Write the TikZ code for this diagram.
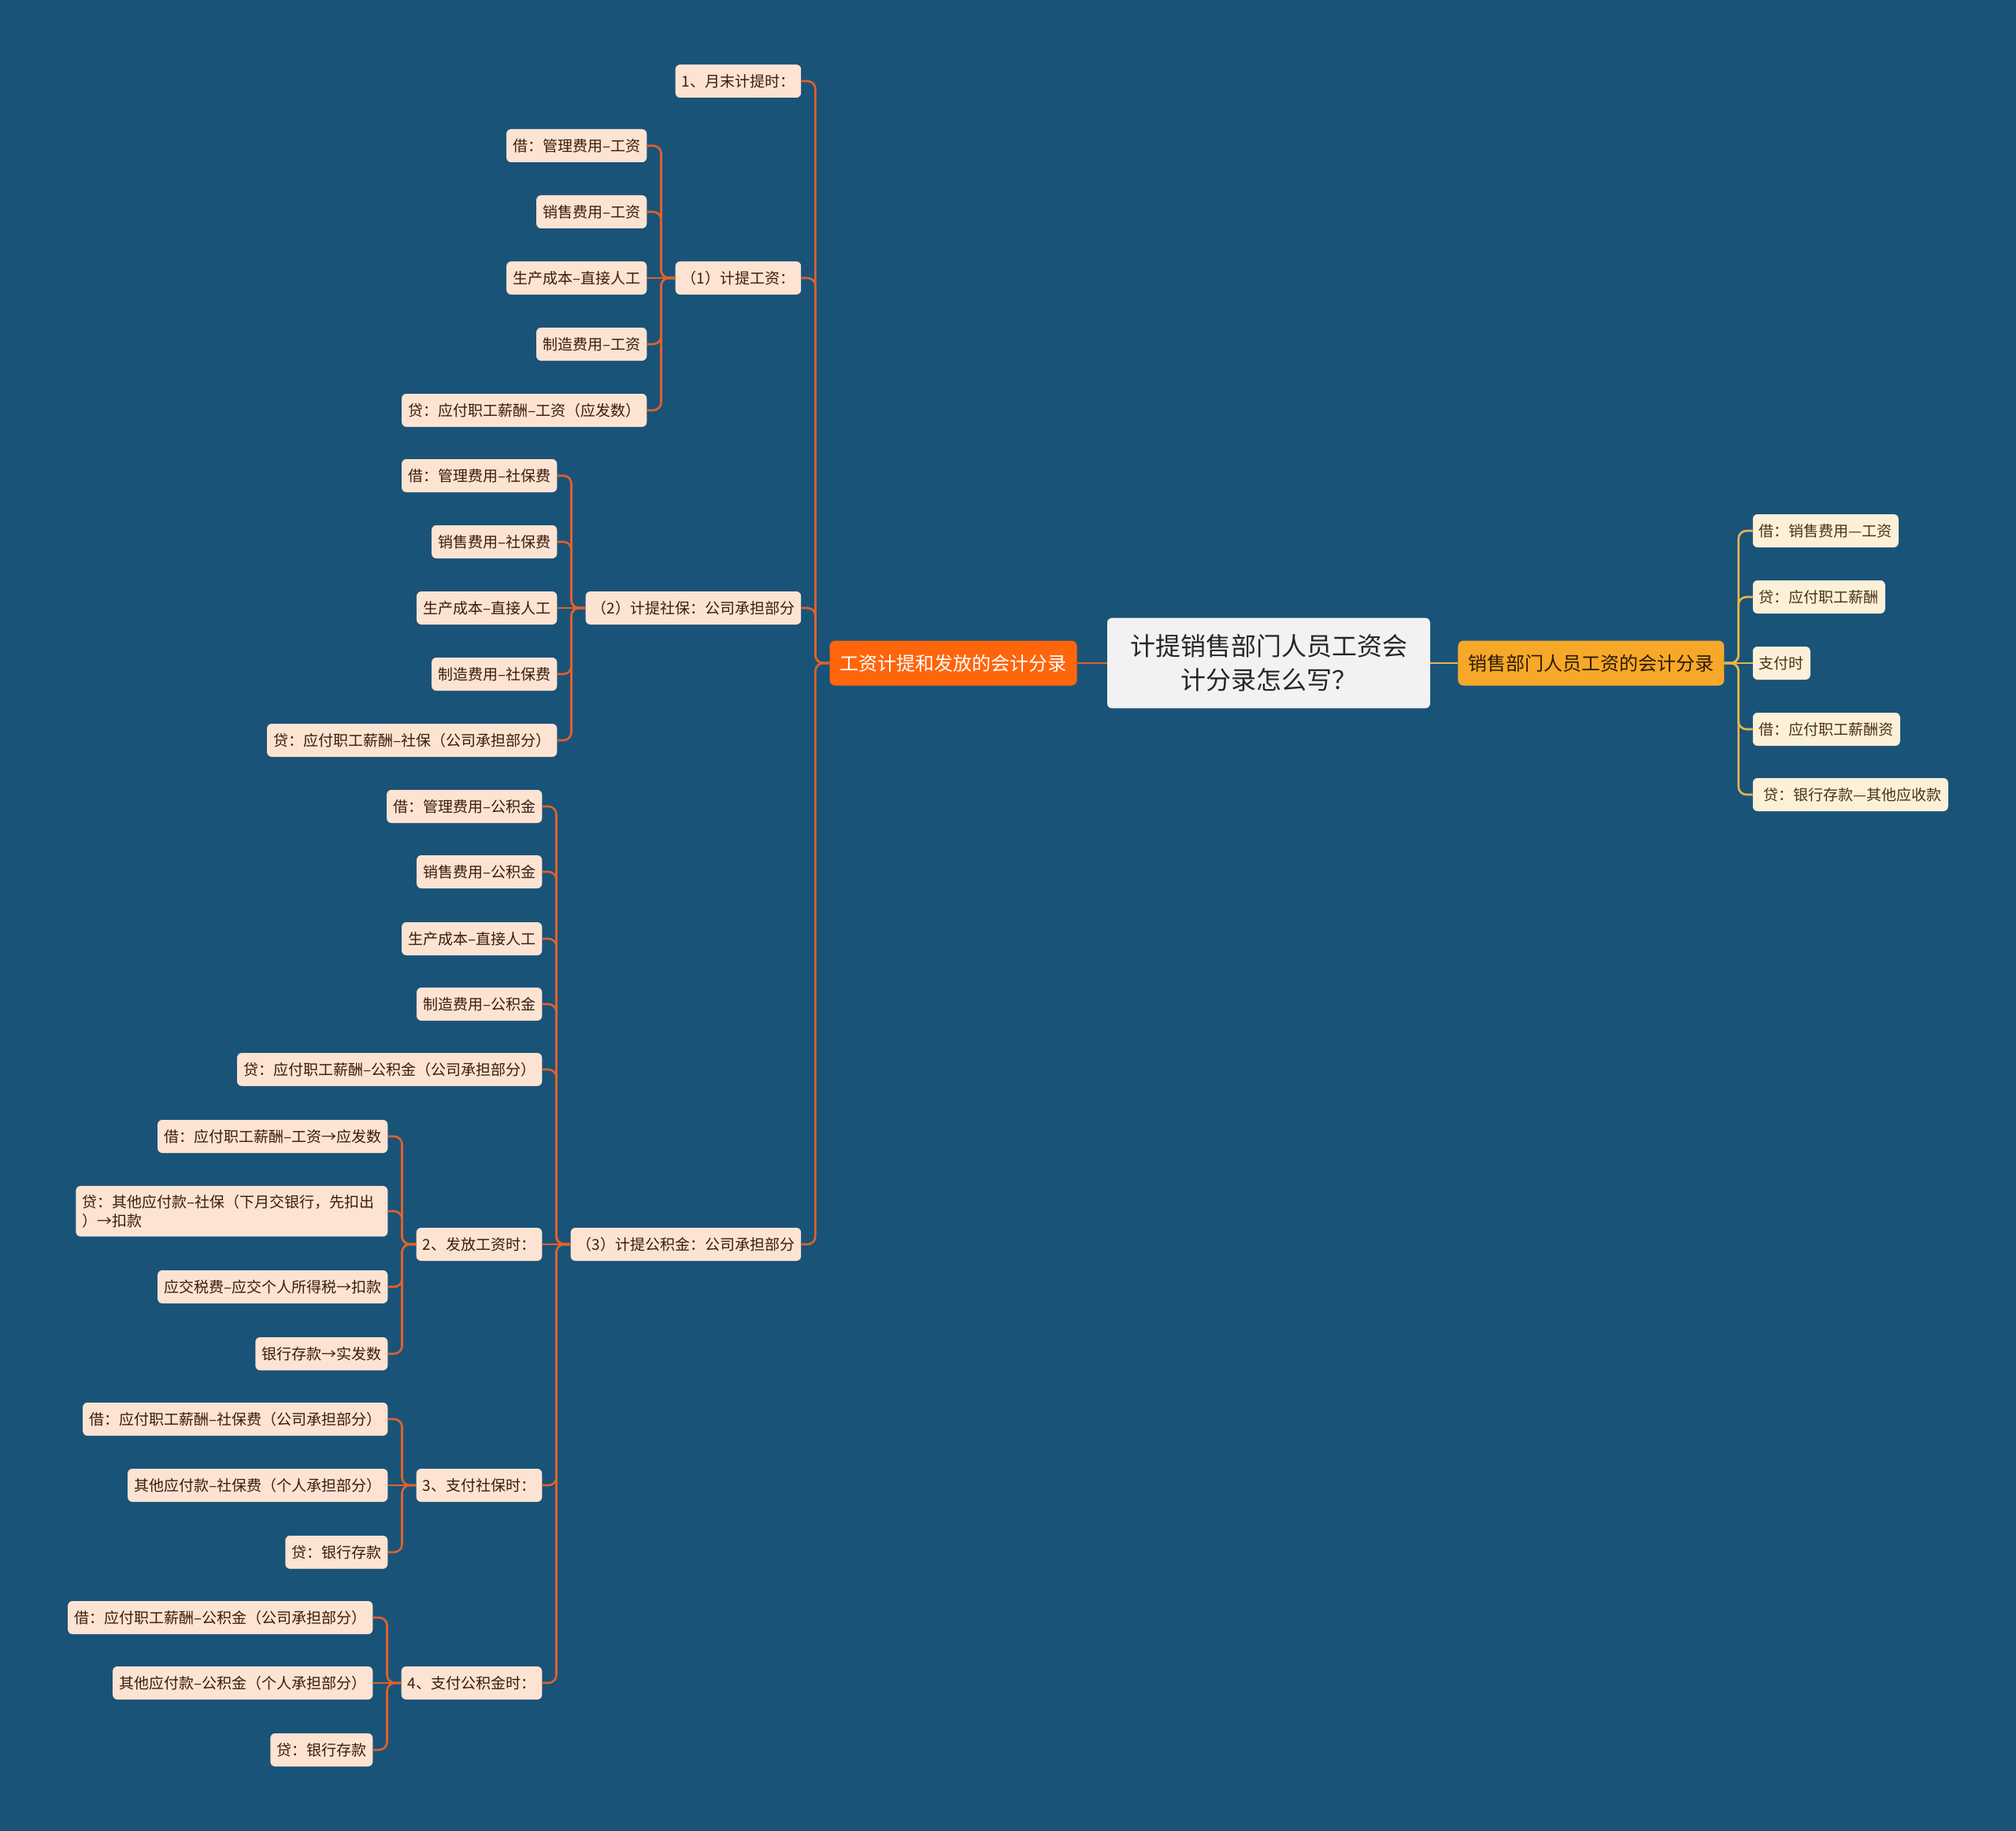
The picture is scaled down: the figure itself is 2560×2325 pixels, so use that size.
\documentclass[tikz,border=0pt]{standalone}
\usepackage{fontspec}
\setmainfont{Noto Sans CJK SC}
\usetikzlibrary{positioning}

\definecolor{bgBlue}{HTML}{1A5378}
\definecolor{leafPeach}{HTML}{FDE3D2}
\definecolor{leafText}{HTML}{3A1C0C}
\definecolor{rightCream}{HTML}{FDF0D9}
\definecolor{rightText}{HTML}{4A3312}
\definecolor{rootGray}{HTML}{F2F2F2}
\definecolor{rootText}{HTML}{262626}
\definecolor{mainOrange}{HTML}{FF650B}
\definecolor{sideYellow}{HTML}{F8A828}
\definecolor{sideText}{HTML}{2B1B05}
\definecolor{linkOrange}{HTML}{E0622A}
\definecolor{linkYellow}{HTML}{E8B44C}

\begin{document}
\begin{tikzpicture}[
			x=1pt, y=-1pt,
			% Node styles
			baseNode/.style={rounded corners=6pt, inner xsep=8pt, inner ysep=9pt, minimum height=42pt, font=\fontsize{19}{24}\selectfont},
			leafNode/.style={baseNode, fill=leafPeach, text=leafText},
			tallLeaf/.style={leafNode, align=left, text width=380pt, inner ysep=11pt},
			rightLeaf/.style={baseNode, fill=rightCream, text=rightText},
			rootNode/.style={rounded corners=6pt, fill=rootGray, text=rootText, align=center, inner xsep=29pt, inner ysep=21pt, font=\fontsize{32}{43}\selectfont},
			mainNode/.style={rounded corners=7pt, fill=mainOrange, text=white, inner xsep=13pt, minimum height=57pt, font=\fontsize{24}{30}\selectfont},
			sideNode/.style={rounded corners=7pt, fill=sideYellow, text=sideText, inner xsep=13pt, minimum height=57pt, font=\fontsize{24}{30}\selectfont},
			% Line styles
			leftLink/.style={line width=2.6pt, draw=linkOrange, rounded corners=10pt},
			rightLink/.style={line width=2.6pt, draw=linkYellow, rounded corners=10pt}
			]
			
			% Canvas
			\fill[bgBlue] (0,0) rectangle (2560,2325);
			\useasboundingbox (0,0) rectangle (2560,2325);
			
			% =========================================================
			% 1. ROOT AND THE TWO MAIN BRANCHES
			% =========================================================
			
			\node[rootNode] (root) at (1611,842) {计提销售部门人员工资会\\计分录怎么写？};
			\node[mainNode, left=38pt of root] (wageMain) {工资计提和发放的会计分录};
			\node[sideNode, right=35pt of root] (salesMain) {销售部门人员工资的会计分录};
			
			\draw[leftLink] (root.west) -- (wageMain.east);
			\draw[rightLink] (root.east) -- (salesMain.west);
			
			% =========================================================
			% 2. LEFT BRANCH: ACCRUAL AND PAYMENT
			% =========================================================
			
			% Level 1
			\node[leafNode, left=36pt of wageMain, yshift=739pt] (monthEnd) {1、月末计提时：};
			\node[leafNode, left=36pt of wageMain, yshift=489pt] (accWage) {（1）计提工资：};
			\node[leafNode, left=36pt of wageMain, yshift=70pt] (accSocial) {（2）计提社保：公司承担部分};
			\node[leafNode, left=36pt of wageMain, yshift=-738pt] (accFund) {（3）计提公积金：公司承担部分};
			
			\draw[leftLink] (monthEnd.east) -| ([xshift=-18pt]wageMain.west) [sharp corners] -- (wageMain.west);
			\draw[leftLink] (accWage.east) -| ([xshift=-18pt]wageMain.west) [sharp corners] -- (wageMain.west);
			\draw[leftLink] (accSocial.east) -| ([xshift=-18pt]wageMain.west) [sharp corners] -- (wageMain.west);
			\draw[leftLink] (accFund.east) -| ([xshift=-18pt]wageMain.west) [sharp corners] -- (wageMain.west);
			
			% (1) Wages
			\node[leafNode, left=36pt of accWage, yshift=168pt] (wageA) {借：管理费用–工资};
			\node[leafNode, left=36pt of accWage, yshift=84pt] (wageB) {销售费用–工资};
			\node[leafNode, left=36pt of accWage] (wageC) {生产成本–直接人工};
			\node[leafNode, left=36pt of accWage, yshift=-84pt] (wageD) {制造费用–工资};
			\node[leafNode, left=36pt of accWage, yshift=-168pt] (wageE) {贷：应付职工薪酬–工资（应发数）};
			
			\draw[leftLink] (wageA.east) -| ([xshift=-18pt]accWage.west) [sharp corners] -- (accWage.west);
			\draw[leftLink] (wageB.east) -| ([xshift=-18pt]accWage.west) [sharp corners] -- (accWage.west);
			\draw[leftLink] (wageC.east) -- (accWage.west);
			\draw[leftLink] (wageD.east) -| ([xshift=-18pt]accWage.west) [sharp corners] -- (accWage.west);
			\draw[leftLink] (wageE.east) -| ([xshift=-18pt]accWage.west) [sharp corners] -- (accWage.west);
			
			% (2) Social insurance
			\node[leafNode, left=36pt of accSocial, yshift=168pt] (socA) {借：管理费用–社保费};
			\node[leafNode, left=36pt of accSocial, yshift=84pt] (socB) {销售费用–社保费};
			\node[leafNode, left=36pt of accSocial] (socC) {生产成本–直接人工};
			\node[leafNode, left=36pt of accSocial, yshift=-84pt] (socD) {制造费用–社保费};
			\node[leafNode, left=36pt of accSocial, yshift=-168pt] (socE) {贷：应付职工薪酬–社保（公司承担部分）};
			
			\draw[leftLink] (socA.east) -| ([xshift=-18pt]accSocial.west) [sharp corners] -- (accSocial.west);
			\draw[leftLink] (socB.east) -| ([xshift=-18pt]accSocial.west) [sharp corners] -- (accSocial.west);
			\draw[leftLink] (socC.east) -- (accSocial.west);
			\draw[leftLink] (socD.east) -| ([xshift=-18pt]accSocial.west) [sharp corners] -- (accSocial.west);
			\draw[leftLink] (socE.east) -| ([xshift=-18pt]accSocial.west) [sharp corners] -- (accSocial.west);
			
			% (3) Housing fund
			\node[leafNode, left=36pt of accFund, yshift=556pt] (fundA) {借：管理费用–公积金};
			\node[leafNode, left=36pt of accFund, yshift=473pt] (fundB) {销售费用–公积金};
			\node[leafNode, left=36pt of accFund, yshift=388pt] (fundC) {生产成本–直接人工};
			\node[leafNode, left=36pt of accFund, yshift=305pt] (fundD) {制造费用–公积金};
			\node[leafNode, left=36pt of accFund, yshift=222pt] (fundE) {贷：应付职工薪酬–公积金（公司承担部分）};
			\node[leafNode, left=36pt of accFund] (payWage) {2、发放工资时：};
			\node[leafNode, left=36pt of accFund, yshift=-306pt] (paySocial) {3、支付社保时：};
			\node[leafNode, left=36pt of accFund, yshift=-557pt] (payFund) {4、支付公积金时：};
			
			\draw[leftLink] (fundA.east) -| ([xshift=-18pt]accFund.west) [sharp corners] -- (accFund.west);
			\draw[leftLink] (fundB.east) -| ([xshift=-18pt]accFund.west) [sharp corners] -- (accFund.west);
			\draw[leftLink] (fundC.east) -| ([xshift=-18pt]accFund.west) [sharp corners] -- (accFund.west);
			\draw[leftLink] (fundD.east) -| ([xshift=-18pt]accFund.west) [sharp corners] -- (accFund.west);
			\draw[leftLink] (fundE.east) -| ([xshift=-18pt]accFund.west) [sharp corners] -- (accFund.west);
			\draw[leftLink] (payWage.east) -- (accFund.west);
			\draw[leftLink] (paySocial.east) -| ([xshift=-18pt]accFund.west) [sharp corners] -- (accFund.west);
			\draw[leftLink] (payFund.east) -| ([xshift=-18pt]accFund.west) [sharp corners] -- (accFund.west);
			
			% 2. Paying wages
			\node[leafNode, left=36pt of payWage, yshift=137pt] (pwA) {借：应付职工薪酬–工资→应发数};
			\node[tallLeaf, left=36pt of payWage, yshift=42pt] (pwB) {贷：其他应付款–社保（下月交银行，先扣出\\）→扣款};
			\node[leafNode, left=36pt of payWage, yshift=-54pt] (pwC) {应交税费–应交个人所得税→扣款};
			\node[leafNode, left=36pt of payWage, yshift=-139pt] (pwD) {银行存款→实发数};
			
			\draw[leftLink] (pwA.east) -| ([xshift=-18pt]payWage.west) [sharp corners] -- (payWage.west);
			\draw[leftLink] (pwB.east) -| ([xshift=-18pt]payWage.west) [sharp corners] -- (payWage.west);
			\draw[leftLink] (pwC.east) -| ([xshift=-18pt]payWage.west) [sharp corners] -- (payWage.west);
			\draw[leftLink] (pwD.east) -| ([xshift=-18pt]payWage.west) [sharp corners] -- (payWage.west);
			
			% 3. Paying social insurance
			\node[leafNode, left=36pt of paySocial, yshift=84pt] (psA) {借：应付职工薪酬–社保费（公司承担部分）};
			\node[leafNode, left=36pt of paySocial] (psB) {其他应付款–社保费（个人承担部分）};
			\node[leafNode, left=36pt of paySocial, yshift=-85pt] (psC) {贷：银行存款};
			
			\draw[leftLink] (psA.east) -| ([xshift=-18pt]paySocial.west) [sharp corners] -- (paySocial.west);
			\draw[leftLink] (psB.east) -- (paySocial.west);
			\draw[leftLink] (psC.east) -| ([xshift=-18pt]paySocial.west) [sharp corners] -- (paySocial.west);
			
			% 4. Paying housing fund
			\node[leafNode, left=36pt of payFund, yshift=83pt] (pfA) {借：应付职工薪酬–公积金（公司承担部分）};
			\node[leafNode, left=36pt of payFund] (pfB) {其他应付款–公积金（个人承担部分）};
			\node[leafNode, left=36pt of payFund, yshift=-85pt] (pfC) {贷：银行存款};
			
			\draw[leftLink] (pfA.east) -| ([xshift=-18pt]payFund.west) [sharp corners] -- (payFund.west);
			\draw[leftLink] (pfB.east) -- (payFund.west);
			\draw[leftLink] (pfC.east) -| ([xshift=-18pt]payFund.west) [sharp corners] -- (payFund.west);
			
			% =========================================================
			% 3. RIGHT BRANCH: SALES DEPARTMENT ENTRIES
			% =========================================================
			
			\node[rightLeaf, right=36pt of salesMain, yshift=168pt] (saleA) {借：销售费用—工资};
			\node[rightLeaf, right=36pt of salesMain, yshift=84pt] (saleB) {贷：应付职工薪酬};
			\node[rightLeaf, right=36pt of salesMain] (saleC) {支付时};
			\node[rightLeaf, right=36pt of salesMain, yshift=-84pt] (saleD) {借：应付职工薪酬资};
			\node[rightLeaf, right=36pt of salesMain, yshift=-167pt] (saleE) {\hspace*{6pt}贷：银行存款—其他应收款};
			
			\draw[rightLink] (saleA.west) -| ([xshift=18pt]salesMain.east) [sharp corners] -- (salesMain.east);
			\draw[rightLink] (saleB.west) -| ([xshift=18pt]salesMain.east) [sharp corners] -- (salesMain.east);
			\draw[rightLink] (saleC.west) -- (salesMain.east);
			\draw[rightLink] (saleD.west) -| ([xshift=18pt]salesMain.east) [sharp corners] -- (salesMain.east);
			\draw[rightLink] (saleE.west) -| ([xshift=18pt]salesMain.east) [sharp corners] -- (salesMain.east);
			
		\end{tikzpicture}
\end{document}
